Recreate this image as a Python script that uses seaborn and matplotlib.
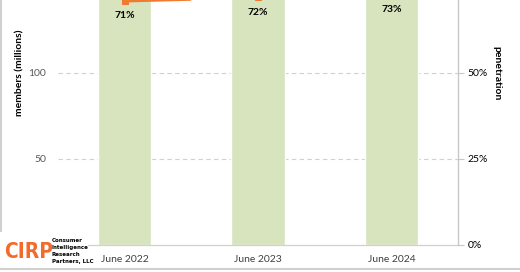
import matplotlib
matplotlib.use("Agg")
import matplotlib.pyplot as plt
import seaborn as sns
import pandas as pd
from matplotlib.patches import Rectangle
from matplotlib.lines import Line2D

# ---- data ----
periods = ["June 2022", "June 2023", "June 2024"]
members = [168, 180, 180]          # members (millions) - bars extend beyond the visible crop
penetration = [71, 72, 73]         # penetration (%)
pen_labels = ["71%", "72%", "73%"]
left_ticks = [50, 100]
right_ticks = [0, 25, 50]

sns.set_theme(style="white")
plt.rcParams["font.family"] = ["Lato", "DejaVu Sans"]

W, H = 520, 272
fig = plt.figure(figsize=(W / 100, H / 100), dpi=100)
fig.patch.set_facecolor("white")

ax = fig.add_axes([58 / W, 27 / H, 400 / W, 245 / H])
df = pd.DataFrame({"period": periods, "members": members})
sns.barplot(data=df, x="period", y="members", color="#D7E4BD", saturation=1,
            width=0.4, ax=ax, zorder=2)
ax.set_xlim(-0.5, 2.5)
ax.set_ylim(0, 142.4)
ax.set_yticks(left_ticks)
ax.set_yticklabels([str(t) for t in left_ticks], color="#595959", fontsize=7.5)
ax.set_xlabel("")
ax.set_ylabel("")
ax.tick_params(axis="x", length=0, pad=7, labelsize=7.5, labelcolor="#404040")
ax.tick_params(axis="y", length=0, pad=8.5)
for v in left_ticks:
    ax.axhline(v, color="#D0D0D0", lw=0.8, ls=(0, (4, 3)), zorder=1)
for s in ["top", "left", "right"]:
    ax.spines[s].set_visible(False)
ax.spines["bottom"].set_color("#D0D0D0")
ax.spines["bottom"].set_linewidth(0.9)

ax2 = ax.twinx()
sns.lineplot(x=[0, 1, 2], y=penetration, ax=ax2, color="#EE7B30", lw=2.6,
             marker="s", markersize=4.5, markeredgecolor="#EE7B30", zorder=5)
ax2.set_ylim(0, 71.2)
ax2.set_yticks(right_ticks)
ax2.set_yticklabels([f"{t}%" for t in right_ticks], color="#000000", fontsize=7.5)
ax2.tick_params(axis="y", length=4, width=0.8, color="#C8C8C8", pad=3)
for s in ["top", "left", "bottom"]:
    ax2.spines[s].set_visible(False)
ax2.spines["right"].set_color("#C8C8C8")
ax2.spines["right"].set_linewidth(1.0)
ax2.set_ylabel("")
for i, (p, lab) in enumerate(zip(penetration, pen_labels)):
    ax2.annotate(lab, (i, p), xytext=(0, -11), textcoords="offset points",
                 ha="center", va="center", fontsize=7.5, fontweight="bold",
                 color="#000000", annotation_clip=False)

# axis titles
fig.text(20 / W, 1 - 73 / H, "members (millions)", rotation=90, ha="center",
         va="center", fontsize=7.5, fontweight="bold", color="#000000")
fig.text(497 / W, 1 - 73 / H, "penetration", rotation=-90, ha="center",
         va="center", fontsize=7.5, fontweight="bold", color="#000000")

# logo area
fig.patches.append(Rectangle((0, 1 - 268 / H), 88 / W, 36 / H, transform=fig.transFigure,
                             facecolor="white", edgecolor="none", zorder=6))
fig.text(4 / W, 1 - 252 / H, "CIRP", ha="left", va="center", fontsize=15,
         fontweight="bold", fontstretch="condensed", color="#F26B2D",
         family=["DejaVu Sans"], zorder=7)
for j, line in enumerate(["Consumer", "Intelligence", "Research", "Partners, LLC"]):
    fig.text(52 / W, 1 - (240 + 7.3 * j) / H, line, ha="left", va="center",
             fontsize=4.4, fontweight="bold", fontstretch="condensed", color="#000000",
             family=["DejaVu Sans"], zorder=7)

# outer frame (partial, from cropped original)
fig.add_artist(Line2D([0.5 / W, 0.5 / W], [1 - 269 / H, 1], transform=fig.transFigure,
                      color="#D0D0D0", lw=1.5))
fig.add_artist(Line2D([0, 1], [1 - 269 / H, 1 - 269 / H], transform=fig.transFigure,
                      color="#D0D0D0", lw=1.5))

fig.savefig("out.png", dpi=100, facecolor="white")
